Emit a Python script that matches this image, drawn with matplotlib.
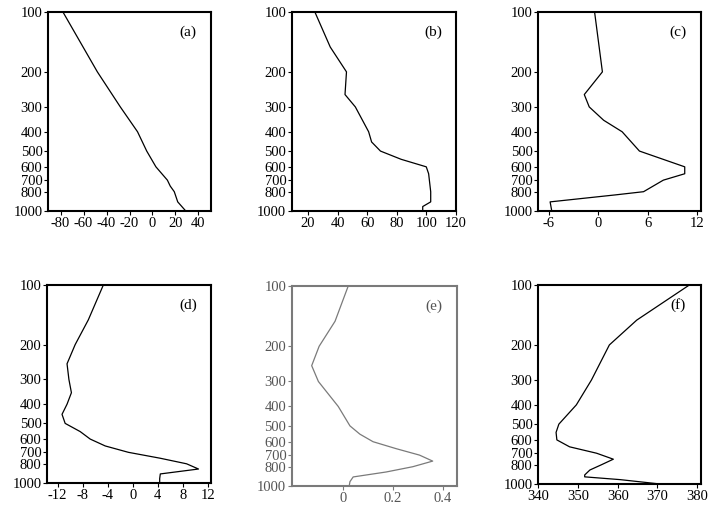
"""
six vertical profiles on log-pressure axes
"""

import matplotlib
matplotlib.use("Agg")
import matplotlib.pyplot as plt
from matplotlib.ticker import FixedLocator, NullLocator

plt.rcParams['font.family'] = ['Liberation Serif', 'DejaVu Serif']

# pressure ticks (hPa)
p_ticks = [100, 200, 300, 400, 500, 600, 700, 800, 1000]

# (a)
p_a = [100, 200, 300, 400, 500, 600, 700, 750, 800, 900, 1000]
v_a = [-78, -48, -28, -13, -5, 3, 13, 15.5, 19, 22, 29]

# (b)
p_b = [100, 150, 200, 260, 300, 400, 450, 500, 550, 600, 650, 800, 900, 950, 1000]
v_b = [24.6, 35, 46, 45, 52, 61, 63, 69, 83, 100, 101.6, 103, 103, 97.6, 97.6]

# (c)
p_c = [100, 200, 260, 300, 350, 400, 500, 600, 650, 700, 800, 830, 900, 1000]
v_c = [-0.45, 0.5, -1.7, -1.1, 0.65, 2.9, 5.0, 10.5, 10.5, 7.9, 5.5, 2.1, -5.85, -5.65]

# (d)
p_d = [100, 150, 200, 250, 300, 350, 400, 450, 500, 550, 600, 650, 700, 750, 800, 850, 900, 950, 1000]
v_d = [-4.7, -7.1, -9.2, -10.5, -10.2, -9.8, -10.5, -11.3, -10.8, -8.4, -6.8, -4.4, -0.7, 4.4, 8.6, 10.5, 4.4, 4.3, 4.3]

# (e)
p_e = [100, 150, 200, 250, 300, 400, 500, 550, 600, 650, 700, 750, 800, 850, 900, 950, 1000]
v_e = [0.02, -0.033, -0.097, -0.127, -0.1, -0.02, 0.027, 0.067, 0.12, 0.213, 0.307, 0.36, 0.28, 0.173, 0.04, 0.027, 0.024]

# (f)
p_f = [100, 150, 200, 300, 400, 500, 550, 600, 650, 700, 750, 800, 850, 900, 920, 950, 1000]
v_f = [378, 364.8, 357.9, 353.4, 349.6, 345.2, 344.5, 344.7, 347.9, 354.7, 358.9, 355.9, 353, 351.7, 351.7, 360.6, 370.8]

panels = [
    # label, p, v, xlim, xticks, axes rect, colour
    ("(a)", p_a, v_a, (-91, 51), [-80, -60, -40, -20, 0, 20, 40], [0.0676, 0.5855, 0.2296, 0.391], "black"),
    ("(b)", p_b, v_b, (9, 120), [20, 40, 60, 80, 100, 120], [0.411, 0.5855, 0.231, 0.391], "black"),
    ("(c)", p_c, v_c, (-7.3, 12.5), [-6, 0, 6, 12], [0.758, 0.5855, 0.2296, 0.391], "black"),
    ("(d)", p_d, v_d, (-13.7, 12.5), [-12, -8, -4, 0, 4, 8, 12], [0.0662, 0.0511, 0.231, 0.389], "black"),
    ("(e)", p_e, v_e, (-0.207, 0.456), [0, 0.2, 0.4], [0.411, 0.045, 0.232, 0.393], "#7a7a7a"),
    ("(f)", p_f, v_f, (340, 381), [340, 350, 360, 370, 380], [0.758, 0.049, 0.2296, 0.391], "black"),
]

fig = plt.figure(figsize=(7.1, 5.09), dpi=100)

for label, p, v, xlim, xticks, rect, col in panels:
    txt = "black" if col == "black" else "#555555"
    ax = fig.add_axes(rect)
    ax.plot(v, p, color=col, lw=0.9)
    ax.set_yscale("log")
    ax.set_ylim(1000, 100)
    ax.yaxis.set_major_locator(FixedLocator(p_ticks))
    ax.yaxis.set_minor_locator(NullLocator())
    ax.set_yticklabels([str(t) for t in p_ticks])
    ax.set_xlim(*xlim)
    ax.set_xticks(xticks)
    ax.set_xticklabels([("%g" % t) for t in xticks])
    ax.tick_params(direction="out", length=3, width=0.8, labelsize=10.5,
                   colors=col, labelcolor=txt, pad=1)
    for s in ax.spines.values():
        s.set_linewidth(1.5)
        s.set_color(col)
    ax.text(0.86, 0.9, label, transform=ax.transAxes, ha="center", va="center",
            fontsize=11, color=txt)

fig.savefig("out.png", dpi=100)
